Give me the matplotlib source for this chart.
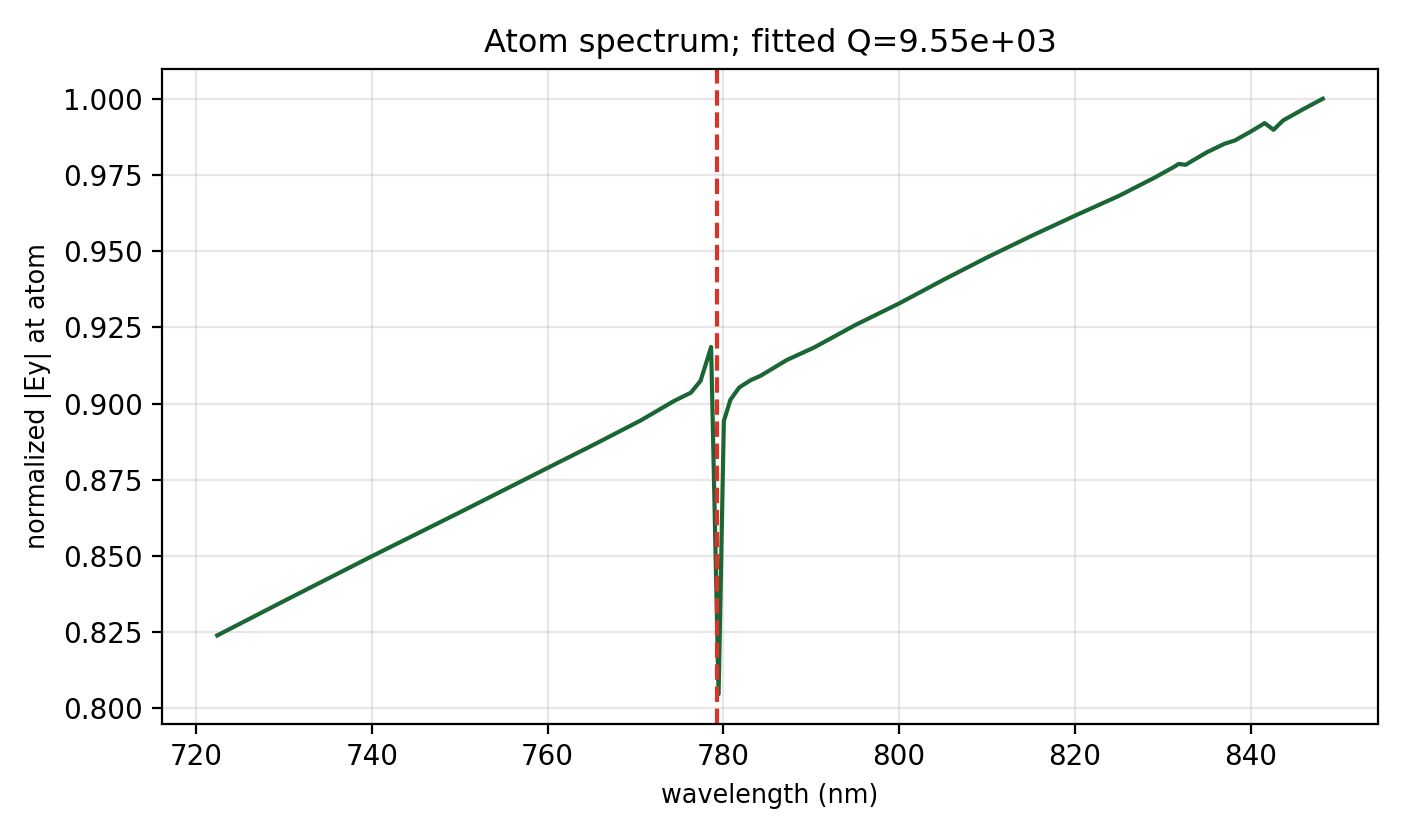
import matplotlib
matplotlib.use("Agg")
import matplotlib.pyplot as plt

# valores
wavelength = [722.4, 730.0, 740.0, 750.0, 760.0, 765.3, 770.6, 774.4, 776.3,
              777.4, 778.0, 778.6, 779.45, 780.05, 780.8, 781.8, 783.1,
              784.2, 787.2, 790.3, 795.0, 800.0, 805.0, 810.0, 815.0, 820.0,
              825.0, 829.0, 831.2, 831.8, 832.6, 833.4, 835.0, 837.0, 838.2,
              840.0, 841.6, 842.6, 843.7, 846.0, 848.2]
ey_norm = [0.8239, 0.8352, 0.8499, 0.8643, 0.8789, 0.8866, 0.8945, 0.9009,
           0.9036, 0.9075, 0.9130, 0.9186, 0.8046, 0.8943, 0.9013, 0.9053,
           0.9077, 0.9091, 0.9143, 0.9184, 0.9258, 0.9329, 0.9406, 0.9480,
           0.9550, 0.9617, 0.9682, 0.9741, 0.9776, 0.9787, 0.9784, 0.9798,
           0.9825, 0.9853, 0.9864, 0.9893, 0.9921, 0.9899, 0.9930, 0.9967,
           1.0001]
resonancia = 779.25
Q = 9.55e3

fig, ax = plt.subplots(figsize=(7.03, 4.18), dpi=200)
fig.subplots_adjust(left=0.1152, right=0.9801, bottom=0.134, top=0.9175)

ax.plot(wavelength, ey_norm, color="#1a6634", lw=1.5)
ax.axvline(resonancia, color="#dc3328", ls="--", lw=1.5)

ax.set_xlabel("wavelength (nm)", fontsize=9.2)
ax.set_ylabel("normalized |Ey| at atom", fontsize=9.2)
ax.set_title("Atom spectrum; fitted Q={:.2e}".format(Q), fontsize=11.5)
ax.grid(True, alpha=0.3)

fig.savefig("out.png", dpi=200)
